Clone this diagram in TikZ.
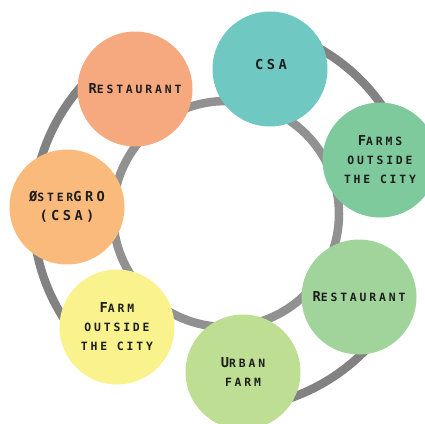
\documentclass[tikz,border=0pt]{standalone}
\usepackage{fontspec}
\newfontfamily\hubfont{DejaVu Sans Mono}[LetterSpace=25]
\usetikzlibrary{positioning}

\definecolor{ringgray}{RGB}{145,145,145}
\definecolor{arcgray}{RGB}{130,130,130}
\definecolor{csateal}{RGB}{112,200,194}
\definecolor{restorange}{RGB}{246,168,126}
\definecolor{farmsgreen}{RGB}{126,202,156}
\definecolor{ostorange}{RGB}{249,186,124}
\definecolor{restgreen}{RGB}{160,212,154}
\definecolor{farmyellow}{RGB}{250,242,140}
\definecolor{urbangreen}{RGB}{190,222,148}
\definecolor{labelink}{RGB}{30,30,30}

\tikzset{hub/.style={circle,minimum size=115pt,inner sep=0pt,align=center,
                     text=labelink,font=\hubfont\bfseries\fontsize{11.4}{19}\selectfont},
         ring/.style={draw=ringgray,line width=8.5pt},
         outer arc/.style={draw=arcgray,line width=8.5pt}}
\newcommand{\capl}[1]{{\fontsize{13.7}{19}\selectfont #1}}

\begin{document}
\begin{tikzpicture}[x=1pt,y=-1pt]
\clip (0,0) rectangle (425,423);
\fill[white] (0,0) rectangle (425,423);

% rings behind the circles
\coordinate (M) at (226,214);
\draw[ring] (M) circle[radius=113pt];
\draw[outer arc] (M) ++(134:193) arc[start angle=134,end angle=234,radius=193];
\draw[outer arc] (M) ++(-73:190) arc[start angle=-73,end angle=-19,radius=190];
\draw[outer arc] (M) ++(32:195) arc[start angle=32,end angle=84,radius=195];

\node[hub,fill=csateal] (CSA) at (270,69) {};
\node[text=labelink,font=\hubfont\bfseries] (CSAt) at (271,65) {\capl{CSA}};
\node[hub,fill=restorange] (R1) at (135,89) {\capl{R}ESTAURANT};
\node[hub,fill=farmsgreen] (F1) at (380,160) {\capl{F}ARMS\\OUTSIDE\\THE CITY};
\node[hub,fill=ostorange] (O1) at (67,207) {\capl{Ø}STER\capl{GRO}\\\capl{(CSA)}};
\node[hub,fill=restgreen] (R2) at (359,297) {\capl{R}ESTAURANT};
\node[hub,fill=farmyellow] (F2) at (117,327) {\capl{F}ARM\\OUTSIDE\\THE CITY};
\node[hub,fill=urbangreen] (U1) at (243,372) {\capl{U}RBAN\\FARM};

\end{tikzpicture}
\end{document}
